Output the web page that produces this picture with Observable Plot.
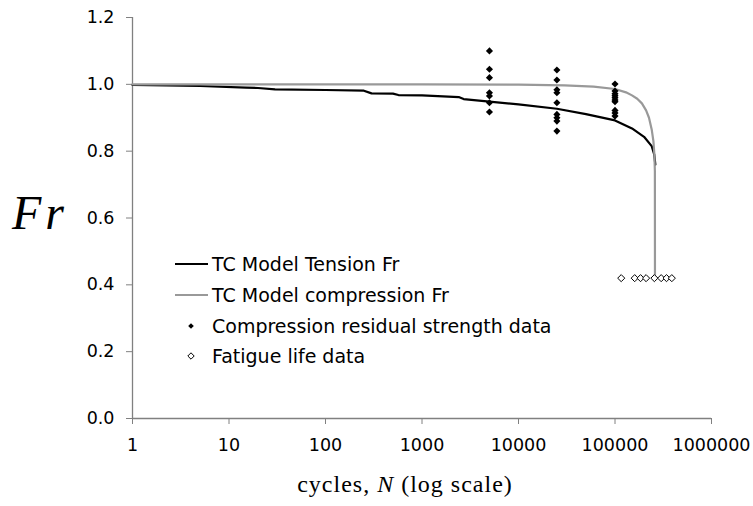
<!DOCTYPE html>
<html><head><meta charset="utf-8">
<script src="https://cdn.jsdelivr.net/npm/d3@7"></script>
<script src="https://cdn.jsdelivr.net/npm/@observablehq/plot@0.6"></script>
<style>body{margin:0;background:#fff} svg{display:block}</style>
</head><body><div id="chart"></div>
<script>
// TC model, tension
const tensionN  = [1, 5, 15, 20, 30, 100, 250, 300, 500, 570, 1000, 2400, 2700, 5000, 10000, 25000, 50000, 100000, 150000, 200000, 240000, 255000, 262000];
const tensionFr = [0.998, 0.995, 0.990, 0.989, 0.985, 0.983, 0.981, 0.973, 0.972, 0.968, 0.967, 0.962, 0.956, 0.948, 0.940, 0.927, 0.911, 0.892, 0.868, 0.843, 0.815, 0.790, 0.760];
// TC model, compression
const compN  = [1, 1000, 10000, 30000, 60000, 100000, 130000, 150000, 170000, 190000, 210000, 225000, 240000, 250000, 256000, 259000, 259500];
const compFr = [1.0, 1.0, 0.999, 0.997, 0.993, 0.986, 0.976, 0.967, 0.957, 0.943, 0.922, 0.900, 0.865, 0.830, 0.790, 0.740, 0.420];
// Compression residual strength data
const resN  = [5000,5000,5000,5000,5000,5000,5000, 25000,25000,25000,25000,25000,25000,25000,25000,25000, 100000,100000,100000,100000,100000,100000,100000,100000,100000,100000];
const resFr = [1.100,1.045,1.020,0.975,0.965,0.945,0.917, 1.043,1.013,0.984,0.975,0.945,0.910,0.900,0.890,0.860, 1.001,0.980,0.972,0.966,0.960,0.953,0.948,0.922,0.914,0.905];
// Fatigue life data
const fatN  = [116000, 160000, 184000, 210000, 256000, 301000, 342000, 388000];
const fatFr = [0.42, 0.42, 0.42, 0.42, 0.42, 0.42, 0.42, 0.42];

const xTicks = [1, 10, 100, 1000, 10000, 100000, 1000000];
const yTicks = [0, 0.2, 0.4, 0.6, 0.8, 1.0, 1.2];
const legendLabels = ["TC Model Tension Fr", "TC Model compression Fr", "Compression residual strength data", "Fatigue life data"];
const yLabel = "Fr";
const xLabelParts = ["cycles, ", "N", " (log scale)"];

const tension = tensionN.map((N, i) => ({N, Fr: tensionFr[i]}));
const compression = compN.map((N, i) => ({N, Fr: compFr[i]}));
const residual = resN.map((N, i) => ({N, Fr: resFr[i]}));
const fatigue = fatN.map((N, i) => ({N, Fr: fatFr[i]}));

const axisColor = "#808080";
const chart = Plot.plot({
  width: 753, height: 506,
  marginLeft: 132, marginRight: 42, marginTop: 17, marginBottom: 88,
  style: {fontFamily: "DejaVu Sans", fontSize: "17.5px", background: "#fff", color: "#000"},
  x: {type: "log", domain: [1, 1e6]},
  y: {domain: [0, 1.2]},
  marks: [
    Plot.axisX({ticks: xTicks, tickFormat: d => String(d), tickSize: 6, tickPadding: 14, stroke: axisColor, fill: "#000", label: null}),
    Plot.axisY({ticks: yTicks, tickFormat: d3.format(".1f"), tickSize: 6, tickPadding: 12, stroke: axisColor, fill: "#000", label: null}),
    Plot.ruleY([0], {stroke: axisColor, strokeWidth: 1.3}),
    Plot.ruleX([1], {stroke: axisColor, strokeWidth: 1.3}),
    Plot.line(tension, {x: "N", y: "Fr", stroke: "#000", strokeWidth: 2.2}),
    Plot.line(compression, {x: "N", y: "Fr", stroke: "#999", strokeWidth: 2.2}),
    Plot.dot(residual, {x: "N", y: "Fr", symbol: "diamond2", r: 3.2, fill: "#000", stroke: "none"}),
    Plot.dot(fatigue, {x: "N", y: "Fr", symbol: "diamond2", r: 3.2, fill: "#fff", stroke: "#000", strokeWidth: 1})
  ]
});
document.getElementById("chart").appendChild(chart);

const svg = d3.select(chart);
// x-axis title
const xt = svg.append("text").attr("x", 405).attr("y", 492).attr("text-anchor", "middle")
  .attr("font-family", "Liberation Serif").attr("font-size", 24).attr("letter-spacing", 1).attr("fill", "#000");
xt.append("tspan").text(xLabelParts[0]);
xt.append("tspan").attr("font-style", "italic").text(xLabelParts[1]);
xt.append("tspan").text(xLabelParts[2]);
// y-axis title
svg.append("text").attr("x", 40).attr("y", 229).attr("text-anchor", "middle")
  .attr("font-family", "Liberation Serif").attr("font-style", "italic").attr("font-size", 48)
  .attr("letter-spacing", 4).attr("fill", "#000").text(yLabel);
// legend
const lg = svg.append("g").attr("font-family", "DejaVu Sans").attr("font-size", 19).attr("text-anchor", "start");
const rows = [264, 295, 326, 356];
lg.append("line").attr("x1", 175).attr("x2", 208).attr("y1", rows[0]).attr("y2", rows[0]).attr("stroke", "#000").attr("stroke-width", 2.2);
lg.append("line").attr("x1", 175).attr("x2", 208).attr("y1", rows[1]).attr("y2", rows[1]).attr("stroke", "#999").attr("stroke-width", 2.2);
lg.append("path").attr("d", d3.symbol(d3.symbolDiamond2, 20)()).attr("transform", `translate(191,${rows[2]})`).attr("fill", "#000");
lg.append("path").attr("d", d3.symbol(d3.symbolDiamond2, 26)()).attr("transform", `translate(191,${rows[3]})`).attr("fill", "#fff").attr("stroke", "#000");
legendLabels.forEach((t, i) => {
  lg.append("text").attr("x", 212).attr("y", rows[i]).attr("dy", "0.35em").attr("fill", "#000").text(t);
});
</script></body></html>
